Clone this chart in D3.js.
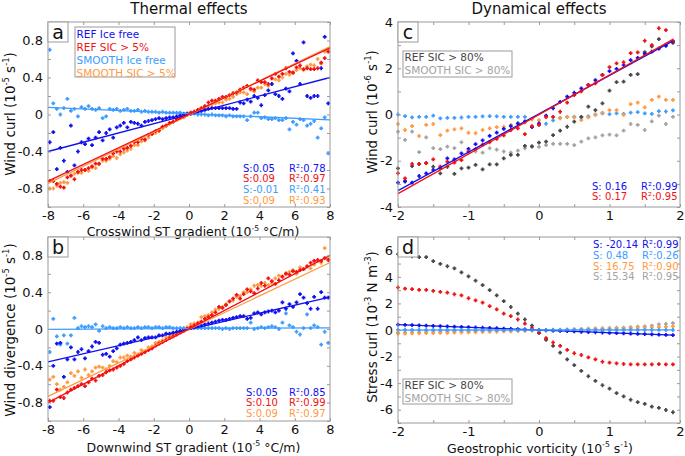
<!DOCTYPE html>
<html><head><meta charset="utf-8">
<script src="https://cdn.jsdelivr.net/npm/d3@7"></script>
<style>body{margin:0;background:#fff}svg{font-family:"DejaVu Sans",sans-serif}</style>
</head><body><svg id="c" width="685" height="456"></svg>
<script>
// ---------- DATA ----------
const binsThermal = [-7.9,-7.7,-7.5,-7.3,-7.1,-6.9,-6.7,-6.5,-6.3,-6.1,-5.9,-5.7,-5.5,-5.3,-5.1,-4.9,-4.7,-4.5,-4.3,-4.1,
-3.9,-3.7,-3.5,-3.3,-3.1,-2.9,-2.7,-2.5,-2.3,-2.1,-1.9,-1.7,-1.5,-1.3,-1.1,-0.9,-0.7,-0.5,-0.3,-0.1,
0.1,0.3,0.5,0.7,0.9,1.1,1.3,1.5,1.7,1.9,2.1,2.3,2.5,2.7,2.9,3.1,3.3,3.5,3.7,3.9,
4.1,4.3,4.5,4.7,4.9,5.1,5.3,5.5,5.7,5.9,6.1,6.3,6.5,6.7,6.9,7.1,7.3,7.5,7.7,7.9];
const binsVort = [-2.0,-1.9,-1.8,-1.7,-1.6,-1.5,-1.4,-1.3,-1.2,-1.1,-1.0,-0.9,-0.8,-0.7,-0.6,-0.5,-0.4,-0.3,-0.2,-0.1,
0.0,0.1,0.2,0.3,0.4,0.5,0.6,0.7,0.8,0.9,1.0,1.1,1.2,1.3,1.4,1.5,1.6,1.7,1.8,1.9];

// Panel a: wind curl vs crosswind ST gradient
const aRefIce = [-0.30,-0.19,-0.59,-0.36,-0.50,-0.62,-0.12,-0.55,-0.40,-0.30,
-0.32,-0.26,-0.33,-0.25,-0.19,-0.28,-0.20,-0.16,-0.25,-0.14,
-0.12,-0.09,-0.14,-0.08,-0.09,-0.10,-0.12,-0.08,-0.07,-0.06,
-0.05,-0.04,-0.05,-0.04,-0.03,-0.03,-0.02,-0.01,0.00,0.01,
0.01,0.02,0.03,0.04,0.05,0.06,0.07,0.07,0.07,0.07,
0.07,0.07,0.06,0.06,0.13,0.12,0.16,0.14,0.20,0.18,
0.10,0.21,0.26,0.33,0.22,0.20,0.17,0.28,0.25,0.66,
0.58,0.33,0.78,0.20,0.18,0.20,0.20,0.50,0.84,0.12];
const aRefSic = [-0.72,-0.72,-0.75,-0.78,-0.79,-0.68,-0.66,-0.70,-0.62,-0.60,
-0.60,-0.58,-0.56,-0.53,-0.53,-0.48,-0.48,-0.46,-0.42,-0.40,
-0.40,-0.37,-0.36,-0.34,-0.30,-0.30,-0.26,-0.27,-0.22,-0.21,
-0.18,-0.17,-0.13,-0.12,-0.09,-0.08,-0.05,-0.04,-0.02,0.00,
0.02,0.03,0.05,0.07,0.09,0.13,0.15,0.15,0.17,0.19,
0.19,0.21,0.23,0.24,0.27,0.29,0.31,0.28,0.27,0.37,
0.35,0.35,0.33,0.39,0.44,0.41,0.44,0.50,0.46,0.45,
0.51,0.53,0.49,0.50,0.49,0.49,0.50,0.56,0.61,0.68];
const aSmIce = [0.70,0.12,0.06,0.00,0.07,0.17,0.04,0.06,-0.02,0.08,
0.06,0.09,0.06,0.05,0.07,-0.04,-0.02,0.06,0.05,0.06,
0.04,0.05,0.06,0.04,0.04,0.05,0.03,0.04,0.03,0.03,
0.03,0.02,0.03,0.02,0.02,0.02,0.02,0.02,0.01,0.01,
0.01,0.01,0.00,0.00,0.00,-0.01,0.00,-0.01,-0.01,-0.01,
-0.02,-0.01,-0.02,-0.02,-0.02,-0.02,-0.06,-0.02,0.02,0.02,
-0.04,-0.03,-0.05,-0.05,-0.04,-0.06,-0.06,-0.04,-0.16,-0.08,
-0.11,-0.05,-0.06,-0.12,-0.10,-0.07,-0.25,-0.15,-0.03,-0.42];
const aSmSic = [-0.80,-0.80,-0.77,-0.74,-0.73,-0.74,-0.66,-0.64,-0.63,-0.63,
-0.60,-0.61,-0.57,-0.58,-0.54,-0.50,-0.50,-0.48,-0.45,-0.47,
-0.43,-0.41,-0.39,-0.37,-0.33,-0.33,-0.29,-0.28,-0.25,-0.21,
-0.20,-0.18,-0.15,-0.12,-0.10,-0.08,-0.06,-0.04,-0.03,0.00,
0.02,0.03,0.05,0.06,0.07,0.09,0.11,0.12,0.13,0.13,
0.16,0.17,0.19,0.22,0.24,0.24,0.22,0.27,0.25,0.29,
0.29,0.33,0.31,0.33,0.38,0.37,0.40,0.44,0.43,0.46,
0.48,0.50,0.48,0.52,0.54,0.53,0.60,0.55,0.68,0.70];
// fits [slope, intercept]
const aFitRefIce = [0.05, 0.0], aFitRefSic = [0.09, 0.0], aFitSmIce = [-0.0085, 0.01], aFitSmSic = [0.0925, -0.005];
const aStats = [["S:0.05","R²:0.78"],["S:0.09","R²:0.97"],["S:-0.01","R²:0.41"],["S:0.09","R²:0.93"]];

// Panel b: wind divergence vs downwind ST gradient
const bRefIce = [-0.85,-0.40,-0.16,-0.15,-0.52,-0.33,-0.20,-0.33,-0.25,-0.22,
-0.32,-0.24,-0.19,-0.14,-0.15,-0.28,-0.27,-0.30,-0.24,-0.21,
-0.17,-0.16,-0.15,-0.14,-0.12,-0.09,-0.12,-0.10,-0.09,-0.09,
-0.09,-0.07,-0.07,-0.05,-0.05,-0.04,-0.03,-0.02,-0.01,0.00,
0.01,0.02,0.03,0.04,0.05,0.06,0.07,0.08,0.09,0.10,
0.10,0.11,0.12,0.13,0.14,0.14,0.11,0.12,0.17,0.18,
0.16,0.18,0.19,0.20,0.18,0.20,0.29,0.22,0.27,0.24,
0.29,0.38,0.34,0.28,0.22,0.35,0.22,0.40,0.34,0.34];
const bRefSic = [-0.78,-0.78,-0.66,-0.74,-0.75,-0.69,-0.66,-0.64,-0.62,-0.60,
-0.62,-0.58,-0.54,-0.56,-0.51,-0.50,-0.47,-0.45,-0.44,-0.42,
-0.40,-0.38,-0.35,-0.33,-0.31,-0.29,-0.27,-0.25,-0.23,-0.21,
-0.18,-0.16,-0.14,-0.12,-0.10,-0.08,-0.06,-0.04,-0.02,0.00,
0.02,0.04,0.06,0.08,0.11,0.13,0.15,0.18,0.24,0.23,
0.26,0.30,0.33,0.37,0.33,0.38,0.43,0.41,0.39,0.44,
0.50,0.47,0.55,0.52,0.49,0.53,0.57,0.60,0.59,0.63,
0.62,0.64,0.65,0.68,0.72,0.74,0.75,0.74,0.77,0.75];
const bSmIce = [-0.25,0.11,-0.08,-0.17,-0.07,-0.16,-0.07,0.12,0.01,0.03,
0.02,0.03,0.02,0.05,-0.02,0.03,0.01,0.02,0.01,0.01,
0.02,0.01,0.02,0.01,0.01,0.02,0.01,0.02,0.02,0.01,
0.02,0.02,0.01,0.02,0.02,0.01,0.01,0.01,0.01,0.01,
0.01,0.01,0.01,0.01,0.01,0.01,0.01,0.01,0.01,0.00,
0.01,0.00,0.01,0.01,0.01,0.01,0.01,0.07,0.00,0.01,
0.02,0.01,0.02,0.03,0.02,0.00,0.07,0.17,0.04,0.02,
-0.03,-0.06,0.01,0.16,0.01,0.04,0.02,-0.17,-0.03,-0.15];
const bSmSic = [-0.55,-0.52,-0.60,-0.66,-0.63,-0.58,-0.48,-0.51,-0.46,-0.53,
-0.44,-0.50,-0.46,-0.42,-0.41,-0.42,-0.44,-0.40,-0.35,-0.36,
-0.31,-0.31,-0.29,-0.30,-0.26,-0.28,-0.23,-0.24,-0.20,-0.19,
-0.15,-0.14,-0.12,-0.09,-0.08,-0.06,-0.04,-0.03,-0.01,0.02,
0.05,0.06,0.07,0.13,0.14,0.15,0.18,0.21,0.22,0.24,
0.27,0.30,0.31,0.35,0.36,0.40,0.40,0.43,0.47,0.48,
0.47,0.50,0.48,0.50,0.55,0.58,0.57,0.61,0.62,0.64,
0.60,0.67,0.65,0.68,0.66,0.70,0.74,0.72,0.88,0.76];
const bFitRefIce = [0.044, -0.005], bFitRefSic = [0.1, 0.0], bFitSmIce = [0.001, 0.005], bFitSmSic = [0.091, -0.005];
const bStats = [["S:0.05","R²:0.85"],["S:0.10","R²:0.99"],["S:0.09","R²:0.97"]];

// Panel c: wind curl vs geostrophic vorticity
const cRefIce = [-2.95,-2.88,-2.95,-2.66,-2.55,-2.40,-2.33,-1.90,-1.94,-1.68,
-1.49,-1.28,-1.12,-0.92,-0.78,-0.62,-0.50,-0.38,-0.30,-0.55,
-0.38,-0.05,0.27,0.55,0.77,0.94,1.13,1.28,1.49,1.71,
1.88,1.97,2.14,2.35,2.45,2.62,2.72,2.85,2.97,3.15];
const cRefSic = [-2.54,-2.76,-2.14,-2.14,-2.10,-1.94,-2.25,-2.04,-2.08,-1.97,
-1.60,-1.50,-1.30,-1.20,-1.05,-0.90,-0.67,-0.60,-0.85,-0.50,
-0.45,-0.10,-0.10,0.12,0.51,0.84,1.00,1.27,1.35,1.71,
2.05,2.21,2.26,2.65,2.69,3.19,3.00,3.73,3.65,3.19];
const cSmIce = [0.00,-0.07,-0.12,-0.10,-0.10,-0.05,-0.17,-0.15,-0.15,-0.13,
-0.10,-0.10,-0.08,-0.07,-0.08,-0.10,-0.10,-0.10,-0.10,-0.20,
-0.45,-0.40,-0.25,-0.15,-0.10,-0.10,-0.12,-0.08,0.00,0.05,
0.02,0.05,0.03,0.08,0.10,0.05,0.03,0.15,0.13,0.18];
const cSmSic = [-0.41,-0.67,-0.50,-0.93,-0.45,-0.41,-0.89,-0.70,-0.64,-0.60,
-0.79,-0.81,-0.67,-0.60,-0.55,-0.53,-0.45,-0.40,-0.35,-0.21,
-0.24,-0.12,-0.10,-0.17,-0.10,-0.12,-0.24,-0.12,-0.02,0.08,
0.19,0.19,-0.02,0.45,0.51,0.31,0.63,0.77,0.63,0.63];
const cRef80 = [-2.33,-2.90,-2.23,-2.14,-2.10,-2.26,-2.55,-2.26,-2.57,-2.33,
-2.30,-2.18,-2.37,-2.16,-2.16,-1.90,-1.75,-1.75,-1.36,-1.39,
-1.22,-1.17,-0.89,-0.70,-0.53,-0.31,-0.10,0.34,0.19,0.48,
1.03,1.40,1.42,1.71,1.75,2.70,2.95,3.26,3.00,3.10];
const cSm80 = [-0.74,-1.10,-0.74,-1.63,-0.99,-1.45,-1.50,-1.39,-1.45,-1.20,
-1.60,-1.60,-1.65,-1.46,-1.52,-1.60,-1.65,-1.56,-1.46,-1.36,
-1.40,-1.32,-1.27,-1.27,-1.27,-1.32,-1.17,-1.03,-0.99,-0.90,
-0.87,-0.90,-0.70,-0.41,-0.45,-0.67,-0.30,-0.05,-0.41,-0.10];
const cFitRefIce = [1.66, 0.03], cFitRefSic = [1.71, 0.0];
const cStats = [["S: 0.16","R²:0.99"],["S: 0.17","R²:0.95"]];

// Panel d: stress curl vs geostrophic vorticity
const dRefIce = [0.40,0.38,0.37,0.35,0.33,0.31,0.29,0.27,0.25,0.23,
0.21,0.19,0.17,0.15,0.13,0.11,0.09,0.07,0.05,0.03,
0.00,-0.03,-0.05,-0.07,-0.09,-0.11,-0.13,-0.15,-0.17,-0.19,
-0.21,-0.23,-0.25,-0.27,-0.29,-0.31,-0.33,-0.35,-0.37,-0.39];
const dRefSic = [3.20,3.12,3.07,3.02,3.02,2.94,2.87,2.82,2.69,2.61,
2.39,2.23,2.06,1.80,1.55,1.24,1.04,0.79,0.48,0.15,
-0.18,-0.61,-0.94,-1.19,-1.50,-1.75,-1.88,-2.06,-2.21,-2.39,
-2.46,-2.51,-2.56,-2.59,-2.59,-2.59,-2.58,-2.57,-2.58,-2.59];
const dSmIce = [0.02,0.02,0.01,0.02,0.01,0.01,0.02,0.01,0.01,0.01,
0.01,0.01,0.00,0.01,0.00,0.00,0.01,0.00,0.00,0.00,
0.00,0.00,0.00,-0.01,0.00,-0.01,0.00,-0.01,0.00,-0.01,
0.00,-0.01,0.00,0.00,-0.01,0.00,0.00,0.01,0.00,0.00];
const dSmSic = [-0.28,-0.27,-0.26,-0.25,-0.24,-0.23,-0.22,-0.21,-0.20,-0.19,
-0.18,-0.17,-0.15,-0.14,-0.13,-0.11,-0.10,-0.08,-0.07,-0.05,
-0.04,-0.03,-0.02,-0.01,0.00,0.02,0.03,0.04,0.06,0.08,
0.09,0.10,0.11,0.13,0.15,0.17,0.19,0.21,0.24,0.28];
const dRef80 = [5.70,5.65,5.55,5.48,5.48,5.18,4.97,4.80,4.64,4.34,
4.04,3.71,3.38,3.00,2.61,2.18,1.73,1.24,0.79,0.33,
-0.23,-0.74,-1.19,-1.70,-2.21,-2.64,-3.07,-3.48,-3.83,-4.16,
-4.42,-4.75,-5.00,-5.25,-5.43,-5.56,-5.76,-5.86,-6.02,-6.19];
const dSm80 = [-0.20,-0.19,-0.18,-0.17,-0.16,-0.15,-0.14,-0.13,-0.12,-0.11,
-0.10,-0.09,-0.08,-0.07,-0.06,-0.05,-0.04,-0.03,-0.02,-0.01,
0.00,0.00,0.02,0.03,0.04,0.06,0.08,0.10,0.12,0.13,
0.15,0.17,0.18,0.22,0.25,0.27,0.33,0.42,0.45,0.52];
const dFitRefIce = [-0.2, 0.0], dFitSmIce = [0.003, 0.0];
const dStats = [["S: -20.14","R²:0.99"],["S: 0.48","R²:0.26"],["S: 16.75","R²:0.90"],["S: 15.34","R²:0.95"]];

const legendThermal = ["REF Ice free","REF SIC > 5%","SMOOTH Ice free","SMOOTH SIC > 5%"];
const legendDyn = ["REF SIC > 80%","SMOOTH SIC > 80%"];
const titles = ["Thermal effects","Dynamical effects"];

// ---------- STYLE ----------
const COL = {blue:"#1010f0", red:"#f41010", light:"#3c9cff", orange:"#ff9a40", dark:"#474747", gray:"#a3a3a3"};
const AX = "#9a9a9a";
const svg = d3.select("#c");

function rich(sel, parts, fs) {
  let up = false;
  parts.forEach(p => {
    const ts = sel.append("tspan").text(p[0]);
    if (p[1]) { ts.attr("font-size", fs*0.62).attr("dy", up ? 0 : -fs*0.42); up = true; }
    else if (up) { ts.attr("dy", fs*0.42); up = false; }
  });
}

function panel(o) {
  const x = d3.scaleLinear().domain(o.xd).range([o.l, o.r]);
  const y = d3.scaleLinear().domain(o.yd).range([o.b, o.t]);
  const g = svg.append("g");
  // points
  o.series.forEach(s => {
    g.append("g").selectAll("path").data(s.v).join("path")
      .attr("d","M-1.9,0H1.9M0,-1.9V1.9")
      .attr("transform",(d,i)=>`translate(${x(o.xs[i])},${y(d)})`)
      .attr("stroke", s.c).attr("stroke-width",1.7).attr("fill","none");
  });
  // fit lines
  o.fits.forEach(f => {
    g.append("line")
      .attr("x1", x(f.x0)).attr("x2", x(f.x1))
      .attr("y1", y(f.p[0]*f.x0+f.p[1])).attr("y2", y(f.p[0]*f.x1+f.p[1]))
      .attr("stroke", f.c).attr("stroke-width",1.3);
  });
  // axes
  const fmtY = d => o.yLab.includes(d) ? String(d) : "";
  const fmtX = d => o.xLab.includes(d) ? String(d) : "";
  const style = a => { a.select(".domain").remove(); a.selectAll(".tick line").attr("stroke",AX);
    a.selectAll("text").attr("font-size",13).attr("fill","#111").attr("font-family","DejaVu Sans"); };
  g.append("g").attr("transform",`translate(${o.l},0)`).call(d3.axisLeft(y).tickValues(o.yT).tickSize(-3).tickPadding(5).tickFormat(fmtY)).call(style);
  g.append("g").attr("transform",`translate(${o.r},0)`).call(d3.axisRight(y).tickValues(o.yT).tickSize(-3).tickFormat("")).call(style);
  g.append("g").attr("transform",`translate(0,${o.b})`).call(d3.axisBottom(x).tickValues(o.xT).tickSize(-3).tickPadding(4).tickFormat(fmtX)).call(style);
  g.append("g").attr("transform",`translate(0,${o.t})`).call(d3.axisTop(x).tickValues(o.xT).tickSize(-3).tickFormat("")).call(style);
  g.append("rect").attr("x",o.l).attr("y",o.t).attr("width",o.r-o.l).attr("height",o.b-o.t)
    .attr("fill","none").attr("stroke",AX).attr("stroke-width",1);
  // panel letter
  g.append("rect").attr("x",o.l).attr("y",o.t).attr("width",20).attr("height",20).attr("fill","#fff").attr("stroke",AX);
  g.append("text").attr("x",o.l+10).attr("y",o.t+17).attr("text-anchor","middle").attr("font-size",19).attr("fill","#111").text(o.letter);
  // stats
  o.stats.forEach((s,i) => {
    g.append("text").attr("x",o.sx).attr("y",o.sy+i*10.9).attr("font-size",10).attr("fill",s.c).text(s.t[0]);
    g.append("text").attr("x",o.rx).attr("y",o.sy+i*10.9).attr("font-size",10).attr("fill",s.c).text(s.t[1]);
  });
  // legend
  if (o.leg) {
    g.append("rect").attr("x",o.leg.x).attr("y",o.leg.y).attr("width",o.leg.w).attr("height",o.leg.h)
      .attr("fill","#fff").attr("stroke",AX);
    o.leg.items.forEach((it,i) => g.append("text").attr("x",o.leg.x+1.5).attr("y",o.leg.y+o.leg.b0+i*o.leg.dy)
      .attr("font-size",10.5).attr("fill",it.c).text(it.t));
  }
  // axis labels
  if (o.xl) { const t = g.append("text").attr("x",o.xl.x).attr("y",o.xl.y).attr("text-anchor","middle").attr("font-size",12.5).attr("fill","#111"); rich(t,o.xl.p,12.5); }
  const ty = g.append("text").attr("transform",`translate(${o.yl.x},${o.yl.y}) rotate(-90)`).attr("text-anchor","middle").attr("font-size",13.5).attr("fill","#111");
  rich(ty,o.yl.p,13.5);
}

const yTa = [-1,-0.8,-0.6,-0.4,-0.2,0,0.2,0.4,0.6,0.8,1];
const yLa = [-0.8,-0.4,0,0.4,0.8];
const xTa = [-8,-6,-4,-2,0,2,4,6,8];
const xTc = [-2,-1.5,-1,-0.5,0,0.5,1,1.5,2];
const xLc = [-2,-1,0,1,2];

panel({letter:"a", l:48, r:330, t:22, b:207, xd:[-8,8], yd:[-1,1], xs:binsThermal,
  yT:yTa, yLab:yLa, xT:xTa, xLab:xTa,
  series:[{v:aSmIce,c:COL.light},{v:aSmSic,c:COL.orange},{v:aRefIce,c:COL.blue},{v:aRefSic,c:COL.red}],
  fits:[{p:aFitSmIce,c:COL.light,x0:-8,x1:8},{p:aFitRefIce,c:COL.blue,x0:-8,x1:8},{p:aFitSmSic,c:COL.orange,x0:-8,x1:8},{p:aFitRefSic,c:COL.red,x0:-8,x1:8}],
  stats:[{t:aStats[0],c:COL.blue},{t:aStats[1],c:COL.red},{t:aStats[2],c:COL.light},{t:aStats[3],c:COL.orange}], sx:243, rx:289, sy:171.5,
  leg:{x:75,y:27,w:100,h:50,b0:10.5,dy:13,items:[{t:legendThermal[0],c:COL.blue},{t:legendThermal[1],c:COL.red},{t:legendThermal[2],c:COL.light},{t:legendThermal[3],c:COL.orange}]},
  xl:{x:193,y:236,p:[["Crosswind ST gradient (10"],["-5",1],[" °C/m)"]]},
  yl:{x:15,y:114,p:[["Wind curl (10"],["-5",1],[" s"],["-1",1],[")"]]}
});

panel({letter:"b", l:48, r:330, t:237, b:421, xd:[-8,8], yd:[-1,1], xs:binsThermal,
  yT:yTa, yLab:yLa, xT:xTa, xLab:xTa,
  series:[{v:bSmIce,c:COL.light},{v:bSmSic,c:COL.orange},{v:bRefIce,c:COL.blue},{v:bRefSic,c:COL.red}],
  fits:[{p:bFitSmIce,c:COL.light,x0:-8,x1:8},{p:bFitRefIce,c:COL.blue,x0:-8,x1:8},{p:bFitSmSic,c:COL.orange,x0:-8,x1:8},{p:bFitRefSic,c:COL.red,x0:-8,x1:8}],
  stats:[{t:bStats[0],c:COL.blue},{t:bStats[1],c:COL.red},{t:bStats[2],c:COL.orange}], sx:246, rx:289, sy:395.5,
  xl:{x:193.5,y:451.5,p:[["Downwind ST gradient (10"],["-5",1],[" °C/m)"]]},
  yl:{x:14.5,y:330,p:[["Wind divergence (10"],["-5",1],[" s"],["-1",1],[")"]]}
});

panel({letter:"c", l:398, r:680, t:22, b:207, xd:[-2,2], yd:[-4,4], xs:binsVort,
  yT:[-4,-3,-2,-1,0,1,2,3,4], yLab:[-4,-2,0,2,4], xT:xTc, xLab:xLc,
  series:[{v:cSmIce,c:COL.light},{v:cSmSic,c:COL.orange},{v:cSm80,c:COL.gray},{v:cRef80,c:COL.dark},{v:cRefIce,c:COL.blue},{v:cRefSic,c:COL.red}],
  fits:[{p:cFitRefIce,c:COL.blue,x0:-2,x1:1.9},{p:cFitRefSic,c:COL.red,x0:-2,x1:1.9}],
  stats:[{t:cStats[0],c:COL.blue},{t:cStats[1],c:COL.red}], sx:592, rx:641, sy:189.5,
  leg:{x:403,y:51,w:109,h:26,b0:10,dy:12.7,items:[{t:legendDyn[0],c:COL.dark},{t:legendDyn[1],c:COL.gray}]},
  yl:{x:376.5,y:112,p:[["Wind curl (10"],["-6",1],[" s"],["-1",1],[")"]]}
});

panel({letter:"d", l:398, r:680, t:237, b:423, xd:[-2,2], yd:[-7,7], xs:binsVort,
  yT:[-7,-6,-5,-4,-3,-2,-1,0,1,2,3,4,5,6,7], yLab:[-6,-4,-2,0,2,4,6], xT:xTc, xLab:xLc,
  series:[{v:dSm80,c:COL.gray},{v:dSmSic,c:COL.orange},{v:dRef80,c:COL.dark},{v:dRefSic,c:COL.red},{v:dRefIce,c:COL.blue},{v:dSmIce,c:COL.light}],
  fits:[{p:dFitRefIce,c:COL.blue,x0:-2,x1:1.9},{p:dFitSmIce,c:COL.light,x0:-2,x1:1.9}],
  stats:[{t:dStats[0],c:COL.blue},{t:dStats[1],c:COL.light},{t:dStats[2],c:COL.orange},{t:dStats[3],c:COL.gray}], sx:593, rx:642, sy:247.7,
  leg:{x:403,y:379,w:109,h:25,b0:10,dy:12.6,items:[{t:legendDyn[0],c:COL.dark},{t:legendDyn[1],c:COL.gray}]},
  xl:{x:540,y:452.5,p:[["Geostrophic vorticity (10"],["-5",1],[" s"],["-1",1],[")"]]},
  yl:{x:376.5,y:327,p:[["Stress curl (10"],["-3",1],[" N m"],["-3",1],[")"]]}
});

svg.append("text").attr("x",189).attr("y",14).attr("text-anchor","middle").attr("font-size",15).attr("fill","#111").text(titles[0]);
svg.append("text").attr("x",539).attr("y",14).attr("text-anchor","middle").attr("font-size",15).attr("fill","#111").text(titles[1]);
</script></body></html>
